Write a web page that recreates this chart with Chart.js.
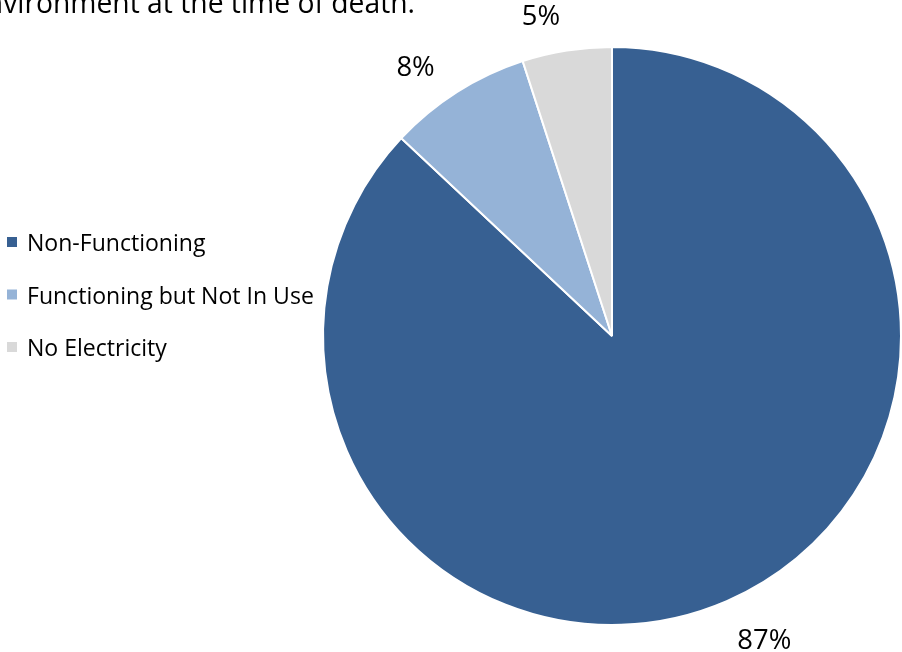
<!DOCTYPE html>
<html>
<head>
<meta charset="utf-8">
<script src="https://cdn.jsdelivr.net/npm/chart.js@4.4.1/dist/chart.umd.min.js"></script>
<style>
  html, body { margin: 0; padding: 0; background: #fff; }
  #chart { display: block; }
</style>
</head>
<body>
<canvas id="chart" width="902" height="652"></canvas>
<script>
const categories = ["Non-Functioning", "Functioning but Not In Use", "No Electricity"];
const shares = [87, 8, 5];
const sliceColors = ["#376092", "#95B3D7", "#D9D9D9"];
const titleText = "environment at the time of death.";

const FONT = "'Open Sans', sans-serif";
const canvas = document.getElementById("chart");
const ctx = canvas.getContext("2d");

// pick a font size so a string comes out at a given width
const fitSize = (text, width) => {
  ctx.font = `100px ${FONT}`;
  return 100 * width / ctx.measureText(text).width;
};
const titleSize = fitSize("vironment at the time of death.", 412);
const legendSize = fitSize("Functioning but Not In Use", 287);
const labelSize = fitSize("87%", 54);

// title (cut by the top edge), legend and outside percentage labels
const decor = {
  id: "decor",
  afterDraw(chart) {
    const c = chart.ctx;
    c.save();
    c.fillStyle = "#000";
    c.textBaseline = "alphabetic";
    c.textAlign = "right";
    c.font = `${titleSize}px ${FONT}`;
    c.fillText(titleText, 415, 13);

    c.textAlign = "left";
    c.font = `${legendSize}px ${FONT}`;
    categories.forEach((name, i) => {
      const y = 242 + i * 52.5;
      c.fillStyle = sliceColors[i];
      c.fillRect(7, y - 5, 10, 10);
      c.fillStyle = "#000";
      c.fillText(name, 27, y + 9);
    });

    const meta = chart.getDatasetMeta(0);
    c.font = `${labelSize}px ${FONT}`;
    c.textAlign = "center";
    c.textBaseline = "middle";
    meta.data.forEach((arc, i) => {
      const p = arc.getProps(["x", "y", "startAngle", "endAngle", "outerRadius"], true);
      const text = shares[i] + "%";
      const w = c.measureText(text).width;
      const h = labelSize * 0.75;
      const mid = (p.startAngle + p.endAngle) / 2 - 0.06;
      const dx = Math.cos(mid), dy = Math.sin(mid);
      // push the label box just clear of the rim
      const r = p.outerRadius + 27 + Math.abs(dx) * w / 2 + Math.abs(dy) * h / 2;
      c.fillText(text, p.x + dx * r, p.y + dy * r + 4);
    });
    c.restore();
  }
};

new Chart(canvas, {
  type: "pie",
  plugins: [decor],
  data: {
    labels: categories,
    datasets: [{
      data: shares,
      backgroundColor: sliceColors,
      borderColor: "#ffffff",
      borderWidth: 2,
    }],
  },
  options: {
    responsive: false,
    animation: false,
    layout: { padding: { left: 322, top: 46, right: 0, bottom: 26 } },
    plugins: {
      legend: { display: false },
      tooltip: { enabled: false },
    },
  },
});
</script>
</body>
</html>
